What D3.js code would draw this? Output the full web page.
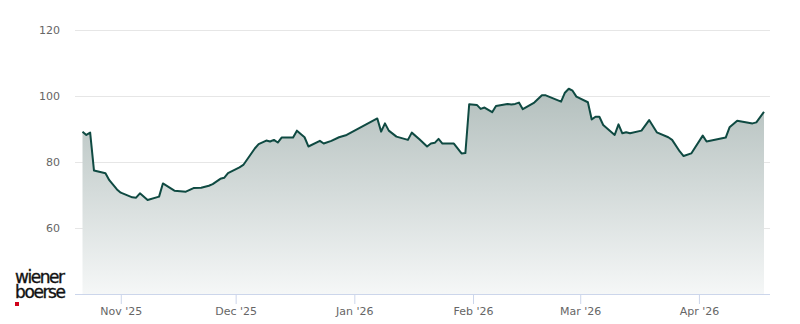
<!DOCTYPE html>
<html>
<head>
<meta charset="utf-8">
<script src="https://cdn.jsdelivr.net/npm/d3@7"></script>
<style>
  body { margin: 0; background: #fff; }
  text { font-family: "DejaVu Sans", sans-serif; }
</style>
</head>
<body>
<div id="my_dataviz"></div>
<script>

// price data
var dates = [
  "2025-10-22","2025-10-23","2025-10-24","2025-10-25","2025-10-28","2025-10-29","2025-10-31",
  "2025-11-01","2025-11-04","2025-11-05","2025-11-06","2025-11-08","2025-11-11","2025-11-12",
  "2025-11-15","2025-11-18","2025-11-20","2025-11-22","2025-11-24","2025-11-25","2025-11-27",
  "2025-11-28","2025-11-29","2025-12-02","2025-12-03","2025-12-06","2025-12-07","2025-12-09",
  "2025-12-10","2025-12-11","2025-12-12","2025-12-13","2025-12-16","2025-12-17","2025-12-19",
  "2025-12-20","2025-12-23","2025-12-24","2025-12-26","2025-12-28","2025-12-30","2026-01-03",
  "2026-01-07","2026-01-08","2026-01-09","2026-01-10","2026-01-12","2026-01-15","2026-01-16",
  "2026-01-18","2026-01-20","2026-01-21","2026-01-22","2026-01-23","2026-01-24","2026-01-27",
  "2026-01-29","2026-01-30","2026-01-31","2026-02-02","2026-02-03","2026-02-04","2026-02-06",
  "2026-02-07","2026-02-10","2026-02-11","2026-02-12","2026-02-13","2026-02-14","2026-02-17",
  "2026-02-19","2026-02-20","2026-02-24","2026-02-25","2026-02-26","2026-02-27","2026-02-28",
  "2026-03-03","2026-03-04","2026-03-05","2026-03-06","2026-03-07","2026-03-10","2026-03-11",
  "2026-03-12","2026-03-13","2026-03-14","2026-03-17","2026-03-19","2026-03-21","2026-03-24",
  "2026-03-25","2026-03-27","2026-03-28","2026-03-30","2026-04-02","2026-04-03","2026-04-08",
  "2026-04-09","2026-04-11","2026-04-15","2026-04-16","2026-04-18"
];
var prices = [
  89.2, 88.2, 88.9, 77.4, 76.6, 74.5, 71.7,
  70.7, 69.3, 69.2, 70.5, 68.5, 69.5, 73.5,
  71.3, 71.0, 72.1, 72.2, 72.8, 73.3, 74.9,
  75.2, 76.6, 78.4, 79.1, 84.1, 85.4, 86.5,
  86.2, 86.7, 85.9, 87.4, 87.4, 89.5, 87.5,
  84.7, 86.4, 85.6, 86.4, 87.5, 88.2, 90.7,
  93.2, 89.2, 91.7, 89.5, 87.7, 86.7, 88.9,
  86.9, 84.7, 85.6, 85.8, 87.0, 85.6, 85.6,
  82.6, 82.7, 97.5, 97.3, 96.1, 96.5, 95.1,
  97.0, 97.6, 97.4, 97.6, 98.0, 96.0, 98.0,
  100.2, 100.2, 98.3, 101.0, 102.2, 101.6, 99.8,
  98.1, 92.9, 93.7, 93.7, 91.2, 88.2, 91.4,
  88.7, 89.0, 88.7, 89.5, 92.7, 89.0, 87.5,
  86.7, 83.2, 81.8, 82.6, 88.0, 86.2, 87.4,
  90.5, 92.5, 91.7, 92.0, 95.2
];

var yTicks = [60, 80, 100, 120];
var xTicks = ["2025-11-01","2025-12-01","2026-01-01","2026-02-01","2026-03-01","2026-04-01"];
var xTickLabels = ["Nov '25","Dec '25","Jan '26","Feb '26","Mar '26","Apr '26"];

var parse = d3.timeParse("%Y-%m-%d");
var data = [];
for (let i = 0; i < dates.length; i++) {
  data.push({ date: parse(dates[i]), value: prices[i] });
}

// size of the svg
var width = 800, height = 324;
var plot = { left: 75, right: 770, top: 30, bottom: 294 };

var svg = d3.select("#my_dataviz")
  .append("svg")
    .attr("width", width)
    .attr("height", height);

// scales
var x = d3.scaleTime()
  .domain(d3.extent(data, d => d.date))
  .range([82.5, 764]);

var y = d3.scaleLinear()
  .domain([40, 120])
  .range([plot.bottom, plot.top]);

// gradient for the area
var defs = svg.append("defs");
var grad = defs.append("linearGradient")
  .attr("id", "areaGrad")
  .attr("gradientUnits", "userSpaceOnUse")
  .attr("x1", 0).attr("x2", 0)
  .attr("y1", y(d3.max(prices))).attr("y2", plot.bottom);
grad.append("stop").attr("offset", "0%").attr("stop-color", "#b3bfbd");
grad.append("stop").attr("offset", "100%").attr("stop-color", "#f5f7f7");

// horizontal grid lines
svg.append("g")
  .selectAll("line")
  .data(yTicks)
  .enter()
  .append("line")
    .attr("x1", plot.left)
    .attr("x2", plot.right)
    .attr("y1", d => Math.round(y(d)) + 0.5)
    .attr("y2", d => Math.round(y(d)) + 0.5)
    .attr("stroke", "#e6e6e6")
    .attr("stroke-width", 1);

// y axis labels
var yAxis = d3.axisLeft(y)
  .tickValues(yTicks)
  .tickSize(0)
  .tickPadding(0);
svg.append("g")
  .attr("transform", "translate(60,0)")
  .call(yAxis)
  .call(g => g.select(".domain").remove())
  .selectAll("text")
    .attr("fill", "#666666")
    .attr("font-size", "11px")
    .attr("font-family", "DejaVu Sans, sans-serif");

// area + line
var area = d3.area()
  .x(d => x(d.date))
  .y0(plot.bottom)
  .y1(d => y(d.value));

var line = d3.line()
  .x(d => x(d.date))
  .y(d => y(d.value));

svg.append("path")
  .datum(data)
  .attr("d", area)
  .attr("fill", "url(#areaGrad)");

svg.append("path")
  .datum(data)
  .attr("d", line)
  .attr("fill", "none")
  .attr("stroke", "#0f4a42")
  .attr("stroke-width", 2)
  .attr("stroke-linejoin", "round");

// x axis
var xAxis = d3.axisBottom(x)
  .tickValues(xTicks.map(parse))
  .tickFormat((d, i) => xTickLabels[i])
  .tickSizeInner(10)
  .tickSizeOuter(0)
  .tickPadding(3);

var gx = svg.append("g")
  .attr("transform", "translate(0," + plot.bottom + ")")
  .call(xAxis);
gx.select(".domain")
  .attr("d", "M" + plot.left + ",0.5H" + plot.right)
  .attr("stroke", "#ccd6eb");
gx.selectAll(".tick line").attr("stroke", "#ccd6eb");
gx.selectAll("text")
  .attr("fill", "#666666")
  .attr("font-size", "11px")
  .attr("font-family", "DejaVu Sans, sans-serif");

// logo (one text, two lines)
var logo = svg.append("text")
  .attr("font-family", "Liberation Sans, Arial, sans-serif")
  .attr("font-size", "17px")
  .attr("fill", "#111")
  .attr("stroke", "#111")
  .attr("stroke-width", 0.35);
logo.append("tspan")
  .attr("x", 15).attr("y", 282.5)
  .attr("textLength", 50)
  .text("wiener");
logo.append("tspan")
  .attr("x", 15).attr("y", 298)
  .attr("textLength", 51)
  .text("boerse");
svg.append("rect")
  .attr("x", 15).attr("y", 302)
  .attr("width", 4).attr("height", 4)
  .attr("fill", "#d0021b");

</script>
</body>
</html>
